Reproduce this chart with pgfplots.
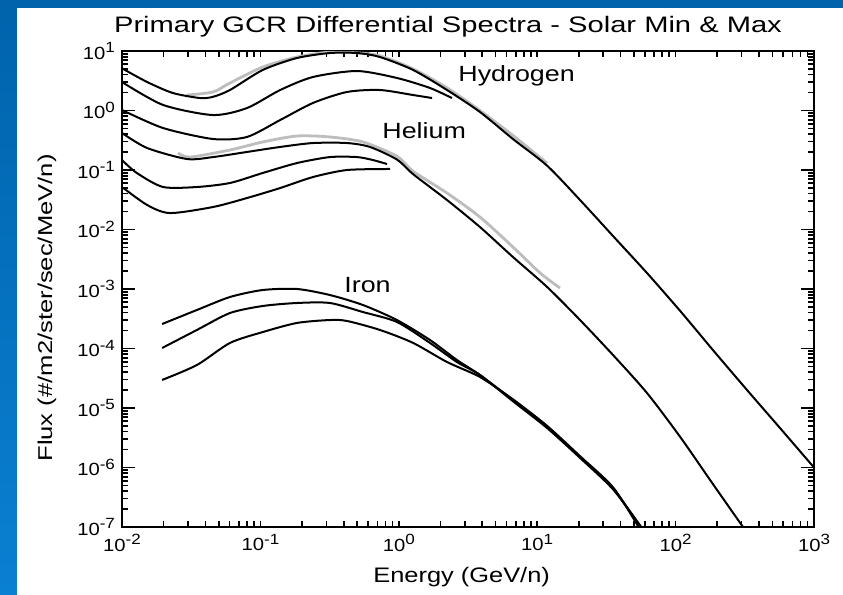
\documentclass[border=0pt]{standalone}
\usepackage{pgfplots}
\pgfplotsset{compat=1.18}
\usepackage{fontspec}
\setmainfont{Liberation Sans}
\usepackage{graphicx}
\definecolor{bluetop}{HTML}{0063AC}
\definecolor{bluebot}{HTML}{0A80D2}
\definecolor{grayline}{HTML}{BDBDBD}
\newcommand{\tl}[1]{\scalebox{1.15}[1]{\fontsize{8.8}{10}\selectfont 10\raisebox{0.38em}{\fontsize{7.4}{8}\selectfont #1}}}
\begin{document}
\begin{tikzpicture}
\useasboundingbox (0,0) rectangle (421.5pt,297.5pt);
\shade[top color=bluetop, bottom color=bluebot] (0,0) rectangle (421.5pt,297.5pt);
\fill[white] (8.5pt,0) rectangle (421.5pt,293.5pt);
\begin{axis}[at={(61pt,34pt)}, anchor=south west, scale only axis,
  width=346pt, height=238pt,
  xmode=log, ymode=log, xmin=1e-2, xmax=1e3, ymin=1e-7, ymax=1e1,
  xtick={1e-2,1e-1,1,10,100,1000},
  xticklabels={\tl{-2},\tl{-1},\tl{0},\tl{1},\tl{2},\tl{3}},
  ytick={1e-7,1e-6,1e-5,1e-4,1e-3,1e-2,1e-1,1,10},
  yticklabels={\tl{-7},\tl{-6},\tl{-5},\tl{-4},\tl{-3},\tl{-2},\tl{-1},\tl{0},\tl{1}},
  minor tick num=0,
  tick align=inside,
  axis line style={line width=1.2pt},
  major tick length=6.5pt,
  every tick/.style={black, line width=0.8pt},
  x tick style={/pgfplots/major tick length=3pt},
  spec/.style={black, line width=1pt, smooth, tension=0.45, mark=none},
  gspec/.style={grayline, line width=1.4pt, smooth, tension=0.45, mark=none},
]
% gray data curves
\addplot[gspec] coordinates {(0.0295,1.82)(0.0455,2.05)(0.0603,2.90)(0.104,5.38)(0.184,7.92)(0.318,9.62)(0.499,9.30)(0.731,8.3)(1.27,5.0)(2.23,2.4)(3.86,1.0)(6.68,0.38)(11.8,0.13)};
\addplot[gspec] coordinates {(0.0254,0.193)(0.0310,0.165)(0.0603,0.217)(0.104,0.296)(0.184,0.373)(0.318,0.359)(0.551,0.296)(0.970,0.170)(1.27,0.095)(2.23,0.0410)(3.86,0.0162)(6.68,5.08e-3)(10.5,1.86e-3)(14.6,1.04e-3)};
% Hydrogen
\addplot[spec] coordinates {(0.01,5.12)(0.0152,3.01)(0.0233,1.97)(0.0366,1.62)(0.0455,1.70)(0.0603,2.21)(0.104,4.80)(0.184,7.63)(0.318,9.25)(0.499,9.25)(0.731,7.92)(1.27,4.80)(2.23,2.21)(3.86,0.944)(6.68,0.332)(11.8,0.118)(20.4,0.0313)(35.3,7.78e-3)(62.1,1.86e-3)(108,4.27e-4)(186,9.44e-5)(328,2.01e-5)(568,4.61e-6)(1000,1e-6)};
\addplot[spec] coordinates {(0.01,3.01)(0.0198,1.24)(0.0455,0.839)(0.080,1.10)(0.139,2.21)(0.240,3.66)(0.499,4.61)(0.970,3.52)(1.68,2.39)(2.42,1.62)};
\addplot[spec] coordinates {(0.01,1.02)(0.0198,0.508)(0.0455,0.332)(0.080,0.359)(0.139,0.692)(0.240,1.34)(0.423,2.05)(0.731,2.21)(1.27,1.82)(1.74,1.62)};
% Helium
\addplot[spec] coordinates {(0.01,0.419)(0.0152,0.234)(0.0295,0.153)(0.0455,0.165)(0.080,0.201)(0.139,0.244)(0.240,0.284)(0.423,0.284)(0.619,0.244)(0.970,0.150)(1.27,0.085)(2.23,0.0313)(3.86,0.0110)(6.68,3.45e-3)(11.8,1.08e-3)(20.4,3.01e-4)(35.3,7.78e-5)(62.1,1.79e-5)(108,3.26e-6)(186,5.28e-7)(307,1e-7)};
\addplot[spec] coordinates {(0.01,0.147)(0.0128,0.0891)(0.0198,0.0518)(0.0348,0.0518)(0.0603,0.0605)(0.104,0.0891)(0.184,0.131)(0.318,0.165)(0.499,0.165)(0.651,0.147)(0.822,0.126)};
\addplot[spec] coordinates {(0.01,0.0518)(0.0152,0.0258)(0.0222,0.0189)(0.0455,0.0239)(0.080,0.0338)(0.139,0.0498)(0.240,0.0762)(0.423,0.100)(0.864,0.104)};
% Iron
\addplot[spec] coordinates {(0.0195,2.58e-4)(0.0348,4.44e-4)(0.0603,7.34e-4)(0.104,9.62e-4)(0.184,1.00e-3)(0.318,7.92e-4)(0.551,5.38e-4)(0.970,3.01e-4)(1.68,1.39e-4)(2.63,6.41e-5)(3.86,3.59e-5)(6.68,1.36e-5)(11.8,4.80e-6)(20.4,1.50e-6)(35.3,4.52e-7)(55.3,1e-7)};
\addplot[spec] coordinates {(0.0195,1.02e-4)(0.0348,2.05e-4)(0.0603,3.95e-4)(0.104,5.18e-4)(0.184,5.82e-4)(0.318,5.82e-4)(0.551,4.10e-4)(0.970,2.79e-4)(1.68,1.24e-4)(2.63,5.93e-5)(3.86,3.59e-5)(6.68,1.30e-5)(11.8,4.6e-6)(20.4,1.45e-6)(35.3,4.3e-7)(56.5,1e-7)};
\addplot[spec] coordinates {(0.0195,2.96e-5)(0.0348,5.28e-5)(0.0603,1.24e-4)(0.104,1.89e-4)(0.184,2.69e-4)(0.318,3.01e-4)(0.423,2.90e-4)(0.731,2.05e-4)(1.27,1.24e-4)(2.23,5.93e-5)(3.86,3.32e-5)(6.68,1.40e-5)(11.8,5.0e-6)(20.4,1.55e-6)(35.3,4.65e-7)(54,1e-7)};
\end{axis}
\node[anchor=base, inner sep=0] at (224pt,281pt) {\scalebox{1.3}[1]{\fontsize{11.2}{13}\selectfont Primary GCR Differential Spectra - Solar Min \& Max}};
\node[anchor=base west, inner sep=0] at (229pt,256.5pt) {\scalebox{1.22}[1]{\fontsize{11}{13}\selectfont Hydrogen}};
\node[anchor=base west, inner sep=0] at (191pt,228pt) {\scalebox{1.22}[1]{\fontsize{11}{13}\selectfont Helium}};
\node[anchor=base west, inner sep=0] at (172pt,151pt) {\scalebox{1.22}[1]{\fontsize{11}{13}\selectfont Iron}};
\node[anchor=base west, inner sep=0] at (186.5pt,6pt) {\scalebox{1.21}[1]{\fontsize{10.5}{12}\selectfont Energy (GeV/n)}};
\node[anchor=base, inner sep=0, rotate=90] at (26pt,143.5pt) {\scalebox{1.28}[1]{\fontsize{10}{12}\selectfont Flux (\#/m2/ster/sec/MeV/n)}};
\end{tikzpicture}
\end{document}
